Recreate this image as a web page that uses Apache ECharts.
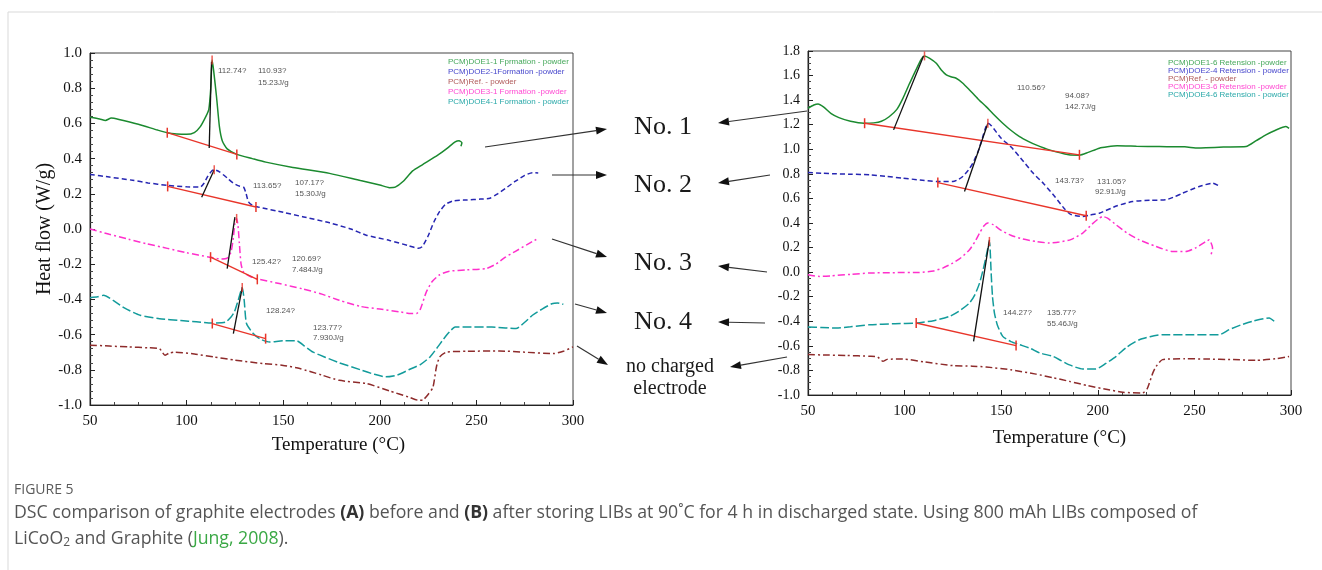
<!DOCTYPE html>
<html>
<head>
<meta charset="utf-8">
<script src="https://cdn.jsdelivr.net/npm/echarts@6/dist/echarts.min.js"></script>
<style>
  html, body { margin: 0; background: #fff; }
  #main { width: 1322px; height: 570px; }
</style>
</head>
<body>
<div id="main"></div>
<script>
// (A) before storage - [temperature degC, heat flow W/g]
var doe1L = [[50,0.635],[55,0.625],[58,0.617],[61,0.63],[65,0.622],[75,0.595],[85,0.562],[90,0.547],[95,0.54],[100,0.538],[104,0.548],[107,0.58],[110,0.64],[111.5,0.68],[112.5,0.8],[113.2,0.96],[114,0.9],[115.5,0.75],[117,0.58],[118.5,0.5],[121,0.455],[126,0.424],[134,0.4],[141,0.38],[155,0.35],[174,0.316],[190,0.275],[200,0.25],[205,0.235],[208,0.238],[212,0.27],[217,0.33],[222,0.365],[230,0.42],[235,0.46],[239,0.495],[241,0.502],[242.5,0.49],[242,0.47]];
var doe2L = [[50,0.31],[60,0.295],[72,0.277],[80,0.262],[90,0.248],[100,0.24],[107,0.238],[109,0.26],[111,0.3],[113,0.33],[114.3,0.337],[117,0.325],[121,0.29],[124,0.262],[127,0.245],[129.5,0.238],[130.7,0.205],[132,0.155],[134,0.135],[137,0.125],[150,0.095],[160,0.07],[174,0.035],[185,0.0],[193,-0.035],[205,-0.065],[215,-0.095],[220,-0.11],[222,-0.1],[225,-0.04],[228,0.04],[231,0.1],[234,0.14],[238,0.16],[245,0.165],[252,0.17],[257,0.175],[261,0.2],[265,0.23],[270,0.27],[275,0.305],[279,0.32],[282,0.318]];
var refL = [[50,-0.66],[60,-0.665],[70,-0.67],[80,-0.675],[86,-0.68],[88.8,-0.718],[91,-0.705],[94,-0.7],[104,-0.71],[114,-0.727],[125,-0.745],[140,-0.765],[150,-0.775],[158.6,-0.793],[170,-0.83],[179,-0.86],[193,-0.878],[205,-0.92],[215,-0.955],[220,-0.973],[222.5,-0.97],[225,-0.94],[227.5,-0.9],[229.3,-0.784],[231,-0.727],[234.5,-0.7],[245,-0.695],[262,-0.693],[275,-0.7],[289.7,-0.708],[295,-0.695],[300,-0.67]];
var doe3L = [[50,0.0],[60,-0.03],[70,-0.058],[79,-0.083],[90,-0.11],[100,-0.135],[112,-0.16],[118,-0.17],[121,-0.165],[123,-0.13],[124.2,-0.05],[125,0.03],[125.9,0.06],[126.6,0.02],[127.3,-0.08],[128.2,-0.2],[129.5,-0.245],[133,-0.27],[136.2,-0.282],[148,-0.31],[160,-0.34],[170,-0.37],[179,-0.405],[190,-0.44],[200,-0.455],[210,-0.47],[216,-0.48],[219,-0.48],[221,-0.455],[224,-0.36],[227,-0.3],[231,-0.26],[236,-0.24],[245,-0.232],[255,-0.225],[260,-0.2],[265,-0.16],[270,-0.128],[276,-0.09],[280,-0.065],[281,-0.06]];
var doe4L = [[50,-0.39],[54,-0.385],[57,-0.377],[62,-0.405],[68,-0.45],[76,-0.49],[86,-0.51],[97,-0.52],[105,-0.527],[113,-0.534],[120,-0.53],[123,-0.5],[124.8,-0.47],[126.7,-0.405],[128.8,-0.333],[129.8,-0.405],[131,-0.537],[134.5,-0.594],[138,-0.625],[143,-0.642],[150,-0.635],[157,-0.635],[161,-0.665],[165.5,-0.7],[172,-0.73],[179,-0.76],[190,-0.8],[197,-0.825],[203,-0.84],[209,-0.83],[215,-0.8],[221,-0.77],[226,-0.727],[230,-0.67],[233,-0.625],[236,-0.585],[239,-0.557],[245,-0.557],[258,-0.557],[265,-0.562],[270.5,-0.566],[275,-0.53],[279,-0.49],[284,-0.455],[289,-0.425],[292,-0.42],[295,-0.428]];

// (B) after storage
var doe1R = [[50,1.334],[53,1.36],[55.2,1.369],[58,1.345],[62,1.29],[66,1.258],[72,1.228],[79,1.212],[84,1.215],[88,1.228],[92,1.265],[96,1.325],[99,1.41],[102.6,1.537],[106,1.65],[108.5,1.73],[110.3,1.76],[113,1.74],[116.4,1.70],[119,1.645],[121.6,1.605],[124,1.59],[126.7,1.578],[130,1.54],[133.6,1.483],[138,1.41],[142.2,1.347],[146,1.285],[150.8,1.212],[155,1.155],[159.5,1.103],[164,1.065],[168,1.036],[175,0.995],[185,0.955],[190.5,0.952],[195,0.975],[200.8,1.009],[205,1.02],[210,1.028],[220,1.025],[231.8,1.022],[245,1.02],[252,1.01],[256,1.012],[265,1.018],[276.7,1.022],[282,1.07],[287,1.117],[292,1.155],[297.4,1.185],[299,1.17]];
var doe2R = [[50,0.811],[57,0.805],[64.7,0.80],[72,0.797],[82,0.792],[90,0.78],[99,0.765],[108,0.75],[117,0.737],[125,0.737],[128,0.755],[130.1,0.778],[133,0.83],[135.3,0.887],[138,0.98],[140.5,1.103],[142,1.18],[143.1,1.212],[145,1.19],[150,1.09],[155,1.02],[160,0.93],[166.5,0.806],[172,0.72],[178,0.61],[182.5,0.52],[186,0.47],[192.2,0.453],[196,0.465],[200.8,0.48],[210,0.54],[218,0.575],[227,0.585],[235.3,0.589],[240,0.615],[243.9,0.643],[252.5,0.697],[259.4,0.724],[262.9,0.70]];
var refR = [[50,-0.671],[60,-0.675],[70,-0.678],[81.9,-0.685],[86,-0.69],[88.8,-0.726],[91,-0.71],[99,-0.707],[110,-0.73],[125,-0.761],[135,-0.765],[142.2,-0.772],[155,-0.795],[168,-0.83],[177,-0.86],[185.3,-0.889],[195,-0.925],[205,-0.955],[212.9,-0.978],[223.2,-0.983],[225.5,-0.95],[226.7,-0.902],[228.5,-0.82],[230.2,-0.767],[233.5,-0.712],[245,-0.705],[256,-0.707],[270,-0.712],[281.8,-0.718],[292,-0.705],[299,-0.686]];
var doe3R = [[50,-0.021],[56,-0.035],[62,-0.03],[72,-0.018],[82,-0.007],[95,-0.004],[107.7,-0.002],[115,0.01],[120,0.035],[125,0.074],[129,0.115],[133.6,0.182],[136.5,0.25],[138.8,0.318],[141,0.375],[143.1,0.40],[146,0.385],[150,0.34],[155,0.3],[161,0.27],[168,0.25],[175,0.237],[180,0.245],[186,0.265],[192.2,0.318],[197,0.39],[200,0.43],[202.5,0.453],[205,0.44],[209.5,0.385],[215,0.32],[221.5,0.263],[230,0.21],[238.7,0.168],[245.6,0.168],[251,0.2],[256,0.25],[257.7,0.263],[259.4,0.196],[258.6,0.141]];
var doe4R = [[50,-0.446],[57,-0.45],[64.7,-0.455],[72,-0.445],[82,-0.428],[95,-0.42],[106,-0.414],[115,-0.395],[123.3,-0.36],[128,-0.32],[133.6,-0.251],[136.5,-0.18],[138.8,-0.089],[140.5,0.01],[142.2,0.128],[143.9,0.25],[144.8,-0.007],[145.5,-0.2],[146.5,-0.333],[148,-0.43],[150.8,-0.523],[155,-0.565],[159.5,-0.59],[165,-0.62],[170,-0.658],[176.7,-0.685],[181,-0.72],[185.3,-0.755],[192.2,-0.788],[199,-0.788],[204,-0.745],[209.5,-0.685],[215,-0.61],[221.5,-0.55],[227,-0.525],[233.5,-0.509],[248,-0.509],[262.9,-0.509],[268,-0.468],[274,-0.43],[280,-0.40],[288.7,-0.373],[291.3,-0.40]];

// peak analysis lines (baseline, onset tangent, peak top)
var baseL = [[[90,0.547],[126,0.424]], [[90.2,0.242],[135.9,0.125]], [[112.4,-0.16],[136.6,-0.286]], [[113.3,-0.537],[140.9,-0.623]]];
var onsetL = [[[111.7,0.46],[112.9,0.95]], [[107.8,0.18],[114.3,0.337]], [[121,-0.225],[125,0.068]], [[124.2,-0.594],[128.8,-0.333]]];
var peakL = [[113.2,0.96],[114.3,0.337],[125.9,0.06],[128.8,-0.333]];
var baseR = [[[79.3,1.212],[190.5,0.955]], [[117.2,0.729],[194,0.459]], [[106,-0.414],[157.7,-0.598]]];
var onsetR = [[[94.3,1.158],[109.8,1.76]], [[131,0.656],[143.1,1.212]], [[135.7,-0.563],[143.9,0.263]]];
var peakR = [[110.3,1.76],[143.1,1.212],[143.9,0.25]];

var namesL = ['PCM)DOE1-1 Fprmation - powder', 'PCM)DOE2-1Formation -powder', 'PCM)Ref. - powder', 'PCM)DOE3-1 Formation -powder', 'PCM)DOE4-1 Formation - powder'];
var namesR = ['PCM)DOE1-6 Retension -powder', 'PCM)DOE2-4 Retension - powder', 'PCM)Ref. - powder', 'PCM)DOE3-6 Retension -powder', 'PCM)DOE4-6 Retension - powder'];

var notes = [
  ['112.74?', 218, 71], ['110.93?', 258, 71], ['15.23J/g', 258, 83],
  ['113.65?', 253, 186], ['107.17?', 295, 183], ['15.30J/g', 295, 194],
  ['125.42?', 252, 262], ['120.69?', 292, 259], ['7.484J/g', 292, 270],
  ['128.24?', 266, 311], ['123.77?', 313, 328], ['7.930J/g', 313, 338],
  ['110.56?', 1017, 88], ['94.08?', 1065, 96], ['142.7J/g', 1065, 107],
  ['143.73?', 1055, 181], ['131.05?', 1097, 182], ['92.91J/g', 1095, 192],
  ['144.27?', 1003, 313], ['135.77?', 1047, 313], ['55.46J/g', 1047, 324]
];
var midLabels = [['No. 1', 663, 127, 26], ['No. 2', 663, 185, 26], ['No. 3', 663, 263, 26], ['No. 4', 663, 322, 26], ['no charged', 670, 367, 20], ['electrode', 670, 389, 20]];
var arrows = [[485,147,607,129],[552,175,607,175],[552,239,607,257],[575,304,607,313],[577,346,608,365],
              [807,111,718,123],[770,175,718,183],[767,272,718,266],[765,323,718,322],[787,357,730,367]];

var serif = 'Liberation Serif';
var sans = 'Liberation Sans';
var lineColors = ['#1b8a2f', '#2626b2', '#8e2b2b', '#ff30cc', '#129b9b'];
var legendColors = ['#45a85a', '#4646cc', '#b05a5a', '#ff48d2', '#2aa9a9'];
var dashes = ['solid', [5, 3], [7, 3, 2, 3], [7, 3, 2, 3], [9, 3]];
var red = '#e8352a';

function curve(name, data, g, k) {
  return {
    name: name, type: 'line', xAxisIndex: g, yAxisIndex: g, data: data,
    showSymbol: false, smooth: 0.2, silent: true,
    lineStyle: { color: lineColors[k], width: 1.5, type: dashes[k] },
    itemStyle: { color: lineColors[k] }
  };
}

function xAx(g, gap, pad) {
  return {
    type: 'value', gridIndex: g, min: 50, max: 300, interval: 50,
    axisLine: { onZero: false, lineStyle: { color: '#222', width: 1.2 } },
    axisTick: { inside: true, length: 5, lineStyle: { color: '#222' } },
    minorTick: { show: true, splitNumber: 4, length: 3, lineStyle: { color: '#444' } },
    splitLine: { show: false },
    axisLabel: { color: '#111', fontFamily: serif, fontSize: 15, margin: 9 },
    name: 'Temperature (\u00B0C)', nameLocation: 'middle', nameGap: gap,
    nameTextStyle: { color: '#111', fontFamily: serif, fontSize: 19, padding: [0, 0, 0, pad] }
  };
}

function yAx(g, min, max, split, fs) {
  return {
    type: 'value', gridIndex: g, min: min, max: max, interval: 0.2,
    axisLine: { show: true, onZero: false, lineStyle: { color: '#222', width: 1.2 } },
    axisTick: { show: true, inside: true, length: 5, lineStyle: { color: '#222' } },
    minorTick: { show: true, splitNumber: split, length: 3, lineStyle: { color: '#444' } },
    splitLine: { show: false },
    axisLabel: {
      color: '#111', fontFamily: serif, fontSize: fs, margin: 8,
      formatter: function (v) { return Math.abs(v) < 1e-9 ? '0.0' : v.toFixed(1); }
    }
  };
}

function legendFor(names, left, top, gap) {
  return {
    orient: 'vertical', left: left, top: top, itemWidth: 0, itemHeight: 6, itemGap: gap,
    icon: 'rect', itemStyle: { opacity: 0 }, selectedMode: false,
    textStyle: { fontFamily: sans, fontSize: 8, lineHeight: 8, padding: 0 },
    data: names.map(function (n, i) { return { name: n, textStyle: { color: legendColors[i] } }; })
  };
}

function arrow(a) {
  var x1 = a[0], y1 = a[1], x2 = a[2], y2 = a[3];
  var ang = Math.atan2(y2 - y1, x2 - x1), L = 11, W = 4;
  var bx = x2 - L * Math.cos(ang), by = y2 - L * Math.sin(ang);
  var px = -Math.sin(ang) * W, py = Math.cos(ang) * W;
  return [
    { type: 'line', shape: { x1: x1, y1: y1, x2: bx, y2: by }, style: { stroke: '#333', lineWidth: 1.2 }, silent: true },
    { type: 'polygon', shape: { points: [[x2, y2], [bx + px, by + py], [bx - px, by - py]] }, style: { fill: '#111' }, silent: true }
  ];
}

var series = [];
[doe1L, doe2L, refL, doe3L, doe4L].forEach(function (d, i) { series.push(curve(namesL[i], d, 0, i)); });
[doe1R, doe2R, refR, doe3R, doe4R].forEach(function (d, i) { series.push(curve(namesR[i], d, 1, i)); });

function analysis(base, onset, peaks, g) {
  base.forEach(function (d) {
    series.push({ type: 'line', xAxisIndex: g, yAxisIndex: g, data: d, silent: true, z: 5,
      symbol: 'rect', symbolSize: [1.5, 10], showSymbol: true,
      lineStyle: { color: red, width: 1.3 }, itemStyle: { color: red } });
  });
  onset.forEach(function (d) {
    series.push({ type: 'line', xAxisIndex: g, yAxisIndex: g, data: d, silent: true, z: 5,
      showSymbol: false, lineStyle: { color: '#111', width: 1.3 } });
  });
  series.push({ type: 'scatter', xAxisIndex: g, yAxisIndex: g, data: peaks, silent: true, z: 6,
    symbol: 'rect', symbolSize: [1.5, 9], itemStyle: { color: red } });
}
analysis(baseL, onsetL, peakL, 0);
analysis(baseR, onsetR, peakR, 1);

var graphic = [
  { type: 'line', shape: { x1: 8, y1: 12, x2: 1322, y2: 12 }, style: { stroke: '#d9d9d9', lineWidth: 1 }, silent: true },
  { type: 'line', shape: { x1: 8, y1: 12, x2: 8, y2: 570 }, style: { stroke: '#d9d9d9', lineWidth: 1 }, silent: true }
];
notes.forEach(function (n) {
  graphic.push({ type: 'text', x: n[1], y: n[2], silent: true,
    style: { text: n[0], fill: '#555', font: '8px "' + sans + '"', textVerticalAlign: 'middle' } });
});
midLabels.forEach(function (m) {
  graphic.push({ type: 'text', x: m[1], y: m[2], silent: true,
    style: { text: m[0], fill: '#1a1a1a', font: m[3] + 'px "' + serif + '"', textAlign: 'center', textVerticalAlign: 'middle' } });
});
arrows.forEach(function (a) { graphic = graphic.concat(arrow(a)); });

var capFont = 17.7;
graphic.push({ type: 'text', x: 14, y: 490, silent: true,
  style: { text: 'FIGURE 5', fill: '#5a5a5a', font: '14px "Open Sans"', textVerticalAlign: 'middle' } });
graphic.push({ type: 'text', x: 14, y: 513, silent: true,
  style: {
    text: '{n|DSC comparison of graphite electrodes }{b|(A)}{n| before and }{b|(B)}{n| after storing LIBs at 90\u02DAC for 4 h in discharged state. Using 800 mAh LIBs composed of}',
    textVerticalAlign: 'middle',
    rich: {
      n: { fontFamily: 'Open Sans', fontSize: capFont, fill: '#555' },
      b: { fontFamily: 'Open Sans', fontSize: capFont, fontWeight: 'bold', fill: '#333' }
    }
  } });
graphic.push({ type: 'text', x: 14, y: 539, silent: true,
  style: {
    text: '{n|LiCoO}{s|2}{n| and Graphite (}{g|Jung, 2008}{n|).}',
    textVerticalAlign: 'middle',
    rich: {
      n: { fontFamily: 'Open Sans', fontSize: capFont, fill: '#555' },
      s: { fontFamily: 'Open Sans', fontSize: 12, fill: '#555', padding: [8, 0, 0, 0] },
      g: { fontFamily: 'Open Sans', fontSize: capFont, fill: '#3aa845' }
    }
  } });

var chart = echarts.init(document.getElementById('main'), null, { renderer: 'canvas' });
var yLeft = yAx(0, -1, 1, 5, 15);
yLeft.name = 'Heat flow (W/g)';
yLeft.nameLocation = 'middle';
yLeft.nameGap = 33;
yLeft.nameTextStyle = { color: '#111', fontFamily: serif, fontSize: 20 };

chart.setOption({
  animation: false,
  backgroundColor: '#fff',
  grid: [
    { left: 90, top: 53, width: 483, height: 352, show: true, borderColor: '#444', borderWidth: 1, backgroundColor: 'transparent' },
    { left: 808, top: 51, width: 483, height: 344, show: true, borderColor: '#444', borderWidth: 1, backgroundColor: 'transparent' }
  ],
  legend: [legendFor(namesL, 438, 53, 2), legendFor(namesR, 1158, 54, 0)],
  xAxis: [xAx(0, 31, 14), xAx(1, 34, 20)],
  yAxis: [yLeft, yAx(1, -1, 1.8, 4, 14)],
  series: series,
  graphic: graphic
});
</script>
</body>
</html>
